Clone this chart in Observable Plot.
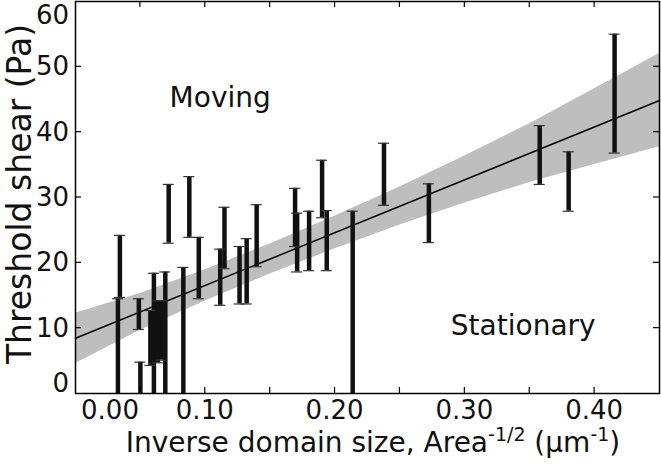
<!DOCTYPE html>
<html><head><meta charset="utf-8">
<script src="https://cdn.jsdelivr.net/npm/d3@7"></script>
<script src="https://cdn.jsdelivr.net/npm/@observablehq/plot@0.6"></script>
<style>body{margin:0;background:#fff} svg{display:block;overflow:visible}</style>
</head><body><div id="chart"></div>
<script>
// Error bars: inverse domain size (µm^-1), upper and lower threshold shear (Pa)
const barX  = [0.0327,0.0342,0.0488,0.0500,0.0577,0.0604,0.0635,0.0662,0.0692,0.0718,0.0831,0.0877,0.0950,0.1115,0.1148,0.1264,0.1319,0.1396,0.1692,0.1708,0.1800,0.1900,0.1936,0.2136,0.2377,0.2723,0.3577,0.3800,0.4154];
const barHi = [14.5,24.2,14.5,4.8,12.7,18.4,14.2,14.2,18.6,32.0,19.3,33.2,23.9,22.1,28.5,22.5,23.7,28.9,31.4,27.6,27.9,35.7,28.0,27.9,38.3,32.1,41.0,37.0,55.0];
const barLo = [-5,14.7,9.8,-5,4.3,-5,4.7,5.1,-5,23.0,-5,23.9,14.5,13.5,19.1,13.7,13.7,19.4,22.5,18.6,18.8,26.9,18.8,-5,28.8,23.1,32.0,27.9,36.8];
// Linear fit
const fitX = [0, 0.45];
const fitY = [8.45, 44.85];
// Confidence band
const bandX  = [0, 0.05, 0.10, 0.15, 0.20, 0.25, 0.30, 0.35, 0.40, 0.45];
const bandHi = [12.3, 15.3, 18.95, 22.9, 27.15, 31.6, 36.35, 41.3, 46.65, 52.05];
const bandLo = [4.6, 9.7, 14.15, 18.3, 22.15, 25.8, 29.15, 32.3, 35.05, 37.75];
// Ticks
const xTicks = [0.05,0.10,0.15,0.20,0.25,0.30,0.35,0.40];
const xTickLabels = ["0.00","0.10","0.20","0.30","0.40"];
const xTickLabelValues = [0,0.1,0.2,0.3,0.4];
const yTicks = [10,20,30,40,50];
const yTickLabels = ["0","10","20","30","40","50","60"];
const yTickLabelValues = [0,10,20,30,40,50,60];
const annotations = [{text:"Moving", x:0.1115, y:45.3},{text:"Stationary", x:0.345, y:10.26}];

const bars = barX.map((x,i)=>({x, hi:barHi[i], lo:barLo[i]}));
const fit = fitX.map((x,i)=>({x, y:fitY[i]}));
const band = bandX.map((x,i)=>({x, hi:bandHi[i], lo:bandLo[i]}));

const W = 661, H = 464;
const FONT = "DejaVu Sans";
const plot = Plot.plot({
  width: W, height: H,
  marginLeft: 75, marginRight: 2, marginTop: 1, marginBottom: 71,
  style: {fontFamily: FONT, background: "#fff"},
  x: {domain: [0, 0.45], axis: null},
  y: {domain: [0, 60], axis: null},
  marks: [
    Plot.areaY(band, {x:"x", y1:"lo", y2:"hi", fill:"#bebebe"}),
    Plot.line(fit, {x:"x", y:"y", stroke:"#000", strokeWidth:1.5}),
    Plot.ruleX(bars, {x:"x", y1:"lo", y2:"hi", stroke:"#111", strokeWidth:4.5, clip:true}),
    Plot.ruleY(bars, {x1:"x", x2:"x", y:"hi", insetLeft:-5.5, insetRight:-5.5, stroke:"#333", strokeWidth:1.2, clip:true}),
    Plot.ruleY(bars, {x1:"x", x2:"x", y:"lo", insetLeft:-5.5, insetRight:-5.5, stroke:"#333", strokeWidth:1.2, clip:true}),
    Plot.text(annotations, {x:"x", y:"y", text:"text", fontSize:28, fill:"#111", fontFamily:FONT}),
    Plot.frame({stroke:"#000", strokeWidth:1.5})
  ]
});

const svg = d3.select(plot);
const xs = plot.scale("x"), ys = plot.scale("y");
const L = 75, R = W - 2, T = 1, B = H - 71, TL = 6;
const g = svg.append("g").attr("stroke", "#000").attr("stroke-width", 1.2);
xTicks.forEach(v => {
  const px = xs.apply(v);
  g.append("line").attr("x1", px).attr("x2", px).attr("y1", B).attr("y2", B - TL);
  g.append("line").attr("x1", px).attr("x2", px).attr("y1", T).attr("y2", T + TL);
});
yTicks.forEach(v => {
  const py = ys.apply(v);
  g.append("line").attr("x1", L).attr("x2", L + TL).attr("y1", py).attr("y2", py);
  g.append("line").attr("x1", R).attr("x2", R - TL).attr("y1", py).attr("y2", py);
});
const tl = svg.append("g").attr("font-family", FONT).attr("font-size", 26).attr("fill", "#111");
xTickLabelValues.forEach((v,i) => {
  let px = xs.apply(v);
  if (v === 0) px += 35;
  tl.append("text").attr("x", px).attr("y", B + 26).attr("text-anchor", "middle").text(xTickLabels[i]);
});
yTickLabelValues.forEach((v,i) => {
  let py = ys.apply(v);
  if (v === 60) py += 14;
  if (v === 0) py -= 10;
  tl.append("text").attr("x", L - 6).attr("y", py + 9).attr("text-anchor", "end").text(yTickLabels[i]);
});
// axis labels
const xl = svg.append("text").attr("font-family", FONT).attr("font-size", 28).attr("fill", "#111")
  .attr("x", 373).attr("y", 452).attr("text-anchor", "middle");
xl.append("tspan").text("Inverse domain size, Area");
xl.append("tspan").attr("font-size", 19).attr("dy", -11).text("-1/2");
xl.append("tspan").attr("dy", 11).text(" (μm");
xl.append("tspan").attr("font-size", 19).attr("dy", -11).text("-1");
xl.append("tspan").attr("dy", 11).text(")");
svg.append("text").attr("font-family", FONT).attr("font-size", 33).attr("fill", "#111")
  .attr("transform", "translate(31,194) rotate(-90)").attr("text-anchor", "middle")
  .text("Threshold shear (Pa)");

document.getElementById("chart").appendChild(plot);
</script>
</body></html>
